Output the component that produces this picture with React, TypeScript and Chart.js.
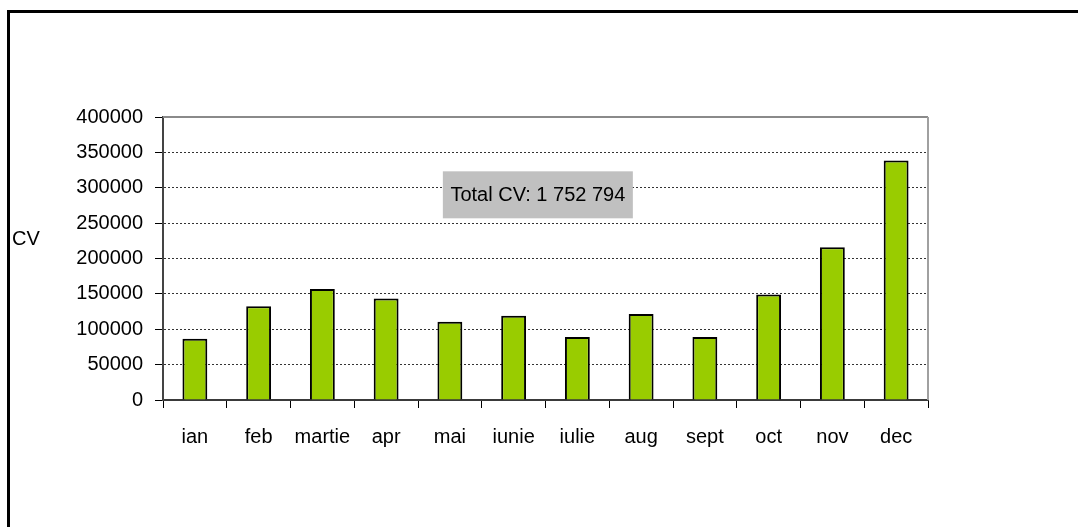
import React, { useEffect, useRef } from "react";
import { Chart, registerables } from "chart.js";

Chart.register(...registerables);

const MONTHS = ["ian", "feb", "martie", "apr", "mai", "iunie", "iulie", "aug", "sept", "oct", "nov", "dec"];
const CV_VALUES = [86500, 132500, 157000, 143500, 110500, 119000, 89000, 121500, 89000, 149000, 216000, 338500];
const Y_MIN = 0;
const Y_MAX = 400000;
const Y_STEP = 50000;
const Y_TITLE = "CV";
const TOTAL_LABEL = "Total CV: 1 752 794";

const FONT_FAMILY = "'Liberation Sans', Arial, sans-serif";

const overlayPlugin = {
  id: "overlay",
  beforeDatasetsDraw(chart: any) {
    const { ctx, chartArea } = chart;
    ctx.save();
    ctx.lineWidth = 2;
    ctx.strokeStyle = "#8a8a8a";
    ctx.beginPath();
    ctx.moveTo(chartArea.left, chartArea.top);
    ctx.lineTo(chartArea.right, chartArea.top);
    ctx.stroke();
    ctx.strokeStyle = "#a0a0a0";
    ctx.beginPath();
    ctx.moveTo(chartArea.right, chartArea.top);
    ctx.lineTo(chartArea.right, chartArea.bottom);
    ctx.stroke();
    ctx.restore();
  },
  afterDraw(chart: any) {
    const { ctx, chartArea } = chart;
    ctx.save();
    ctx.font = `20px ${FONT_FAMILY}`;
    ctx.fillStyle = "#000";
    ctx.textAlign = "left";
    ctx.textBaseline = "middle";
    ctx.fillText(Y_TITLE, 12, chartArea.top + chartArea.height * 0.432);

    const cx = chartArea.left + chartArea.width * 0.49;
    const cy = chartArea.top + chartArea.height * 0.275;
    const bw = 190;
    const bh = 47;
    ctx.fillStyle = "#c0c0c0";
    ctx.fillRect(cx - bw / 2, cy - bh / 2, bw, bh);
    ctx.fillStyle = "#000";
    ctx.textAlign = "center";
    ctx.font = `20px ${FONT_FAMILY}`;
    ctx.fillText(TOTAL_LABEL, cx, cy + 1);
    ctx.restore();
  },
};

export default function App() {
  const canvasRef = useRef<HTMLCanvasElement | null>(null);

  useEffect(() => {
    const canvas = canvasRef.current;
    if (!canvas) return;
    const chart = new Chart(canvas, {
      type: "bar",
      data: {
        labels: MONTHS,
        datasets: [
          {
            data: CV_VALUES,
            backgroundColor: "#99cc00",
            borderColor: "#000000",
            borderWidth: 2,
            barPercentage: 0.39,
            categoryPercentage: 1,
          },
        ],
      },
      options: {
        responsive: false,
        animation: false,
        layout: { padding: { top: 117, right: 150, left: 0, bottom: 0 } },
        plugins: {
          legend: { display: false },
          tooltip: { enabled: false },
          title: { display: false },
        },
        scales: {
          x: {
            afterFit: (scale: any) => {
              scale.height = 127;
            },
            grid: {
              display: true,
              drawOnChartArea: false,
              drawTicks: true,
              tickLength: 8,
              color: "#000",
              tickColor: "#000",
              offset: true,
            },
            border: { display: true, color: "#3a3a3a", width: 2 },
            ticks: {
              color: "#000",
              padding: 17,
              maxRotation: 0,
              autoSkip: false,
              font: { family: FONT_FAMILY, size: 20 },
            },
          },
          y: {
            min: Y_MIN,
            max: Y_MAX,
            afterFit: (scale: any) => {
              scale.width = 163;
            },
            grid: {
              display: true,
              drawTicks: true,
              tickLength: 8,
              lineWidth: 1,
              color: (c: any) => (c.tick && c.tick.value === Y_MAX ? "rgba(0,0,0,0)" : "#333"),
              tickColor: "#000",
              tickBorderDash: [],
            },
            border: { display: true, color: "#444", width: 2, dash: [2, 2] },
            ticks: {
              stepSize: Y_STEP,
              color: "#000",
              padding: 12,
              font: { family: FONT_FAMILY, size: 20 },
              callback: (v: any) => String(v),
            },
          },
        },
      },
      plugins: [overlayPlugin],
    });
    return () => chart.destroy();
  }, []);

  return (
    <div style={{ position: "fixed", left: 0, top: 0, width: 1078, height: 527, overflow: "hidden", background: "#fff" }}>
      <div
        style={{
          position: "absolute",
          left: 7,
          top: 10,
          width: 1200,
          height: 700,
          borderTop: "3px solid #000",
          borderLeft: "3px solid #000",
        }}
      />
      <canvas ref={canvasRef} width={1078} height={527} style={{ position: "absolute", left: 0, top: 0, width: 1078, height: 527 }} />
    </div>
  );
}
